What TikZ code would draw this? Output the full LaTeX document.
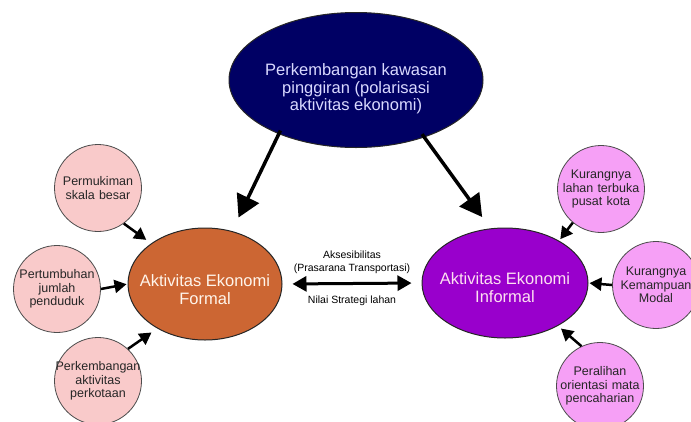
\documentclass[tikz,border=0pt]{standalone}
\usepackage{fontspec}
\setmainfont{Liberation Sans}
\usepackage{tikz}
\usetikzlibrary{positioning, shapes, arrows.meta}

\definecolor{topfill}{RGB}{0,0,100}
\definecolor{formalfill}{RGB}{204,102,51}
\definecolor{informalfill}{RGB}{153,0,204}
\definecolor{pinkfill}{RGB}{249,202,202}
\definecolor{orchidfill}{RGB}{246,160,246}

\begin{document}
\begin{tikzpicture}[x=1pt, y=-1pt,
  bigblob/.style={draw=black!85, line width=1pt, ellipse, inner xsep=-25pt, inner ysep=0pt, align=center},
  cause/.style={draw=black!70, line width=0.8pt, circle, minimum size=87pt, inner sep=-6pt, text width=88pt, align=center, text=black!85, font=\fontsize{12.5}{13.5}\selectfont},
  bigarrow/.style={-{Triangle[length=22pt, width=24pt]}, line width=3.5pt},
  smallarrow/.style={-{Triangle[length=12pt, width=13pt]}, line width=2.5pt},
  twoway/.style={{Triangle[length=14pt, width=15pt]}-{Triangle[length=14pt, width=15pt]}, line width=3pt}]
\useasboundingbox (0,0) rectangle (691,421);

\node[bigblob, fill=topfill, minimum width=254pt, minimum height=135pt, text=white!85!blue, font=\fontsize{16.5}{17.5}\selectfont] (pinggiran) at (356,80) {\rule{0pt}{30pt}Perkembangan kawasan\\pinggiran (polarisasi\\aktivitas ekonomi)};
\node[bigblob, fill=formalfill, minimum width=154pt, minimum height=112pt, text=white!92!orange, font=\fontsize{16.5}{18}\selectfont] (formal) at (205,284) {\rule{0pt}{24pt}Aktivitas Ekonomi\\Formal};
\node[bigblob, fill=informalfill, minimum width=166pt, minimum height=110pt, text=white!88!magenta, font=\fontsize{16.5}{18}\selectfont] (informal) at (505,283) {\rule{0pt}{22pt}Aktivitas Ekonomi\\Informal};

% faktor formal
\node[cause, fill=pinkfill] (permukiman) at (98,188) {Permukiman\\skala besar};
\node[cause, fill=pinkfill] (penduduk) at (57,289) {Pertumbuhan\\jumlah\\penduduk};
\node[cause, fill=pinkfill] (perkotaan) at (98,381) {Perkembangan\\aktivitas\\perkotaan};

% faktor informal
\node[cause, fill=orchidfill] (lahan) at (601,189) {Kurangnya\\lahan terbuka\\pusat kota};
\node[cause, fill=orchidfill] (modal) at (656,285) {Kurangnya\\Kemampuan\\Modal};
\node[cause, fill=orchidfill] (peralihan) at (600,386) {Peralihan\\orientasi mata\\pencaharian};

\draw[bigarrow, shorten <=-4pt, shorten >=15pt] (pinggiran.215) -- (formal.63);
\draw[bigarrow, shorten <=-4pt, shorten >=14pt] (pinggiran.320) -- (informal.105);

\draw[smallarrow, shorten >=6pt] (permukiman.306) -- (formal.143);
\draw[smallarrow, shorten >=1pt] (penduduk.east) -- (formal.west);
\draw[smallarrow, shorten >=7pt] (perkotaan.47) -- (formal.223);

\draw[smallarrow, shorten >=2pt] (lahan.230) -- (informal.38);
\draw[smallarrow, shorten >=1pt] (modal.west) -- (informal.east);
\draw[smallarrow, shorten >=4pt] (peralihan.115) -- (informal.321);

\draw[twoway, shorten <=10pt, shorten >=10pt] (formal.east) -- (informal.west)
  node[midway, above=5pt, align=center, font=\fontsize{10.5}{13}\selectfont] {Aksesibilitas\\(Prasarana Transportasi)}
  node[midway, below=8pt, font=\fontsize{10.5}{13}\selectfont] {Nilai Strategi lahan};
\end{tikzpicture}
\end{document}
